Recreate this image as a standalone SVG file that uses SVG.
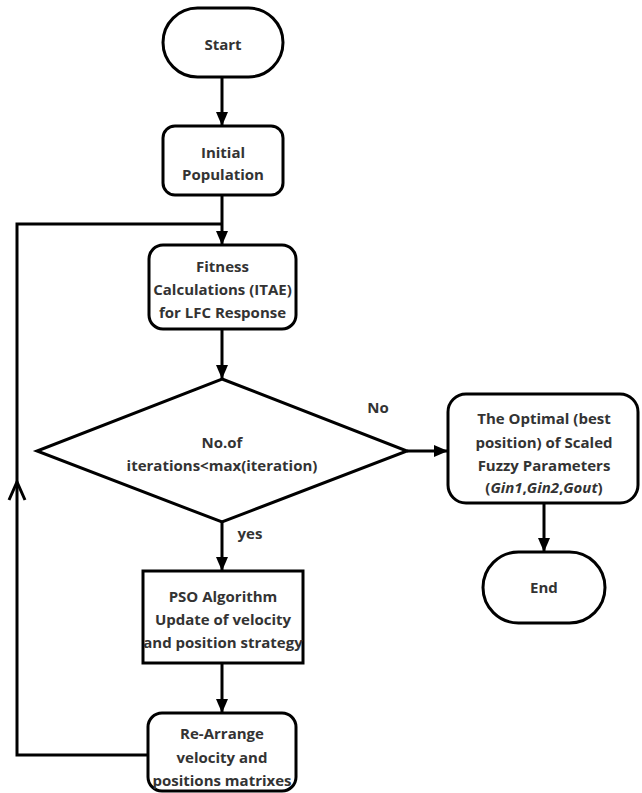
<svg xmlns="http://www.w3.org/2000/svg" width="642" height="793" viewBox="0 0 642 793">
  <style>
    .shape { fill: #ffffff; stroke: #000000; stroke-width: 3; }
    .edge { fill: none; stroke: #000000; stroke-width: 3; }
    .lbl { font-family: "Open Sans", "Noto Sans", "DejaVu Sans", sans-serif; font-weight: bold; font-size: 15px; fill: #333333; text-anchor: middle; }
  </style>
  <defs>
    <marker id="arrow" markerUnits="userSpaceOnUse" markerWidth="14" markerHeight="14" viewBox="0 0 14 14" refX="14" refY="7" orient="auto">
      <path d="M0,1 L14,7 L0,13 z" fill="#000000"/>
    </marker>
  </defs>
  <rect width="642" height="793" fill="#ffffff"/>

  <g id="connectors">
    <line class="edge" x1="222" y1="77" x2="222" y2="126" marker-end="url(#arrow)"/>
    <line class="edge" x1="222" y1="195" x2="222" y2="245" marker-end="url(#arrow)"/>
    <line class="edge" x1="222" y1="329" x2="222" y2="379" marker-end="url(#arrow)"/>
    <line class="edge" x1="222" y1="522" x2="222" y2="571" marker-end="url(#arrow)"/>
    <line class="edge" x1="222" y1="663" x2="222" y2="713" marker-end="url(#arrow)"/>
    <line class="edge" x1="407" y1="451" x2="448" y2="451" marker-end="url(#arrow)"/>
    <line class="edge" x1="544" y1="503" x2="544" y2="552" marker-end="url(#arrow)"/>
    <polyline class="edge" points="148,755 17,755 17,224 222,224"/>
    <polyline class="edge" points="9,500 17,482 25,500" stroke-linejoin="miter"/>
    <text class="lbl" x="378" y="413">No</text>
    <text class="lbl" x="250" y="539">yes</text>
  </g>

  <g id="start">
    <rect class="shape" x="163" y="8" width="120" height="69" rx="34.5"/>
    <text class="lbl" x="223" y="49.5">Start</text>
  </g>

  <g id="initial">
    <rect class="shape" x="163" y="126" width="120" height="69" rx="12"/>
    <text class="lbl" x="223" y="157.5">Initial</text>
    <text class="lbl" x="223" y="179.5">Population</text>
  </g>

  <g id="fitness">
    <rect class="shape" x="149" y="245" width="147" height="84" rx="14"/>
    <text class="lbl" x="222.5" y="271.5">Fitness</text>
    <text class="lbl" x="222.5" y="294.5">Calculations (ITAE)</text>
    <text class="lbl" x="222.5" y="317.5">for LFC Response</text>
  </g>

  <g id="decision">
    <polygon class="shape" points="222,379 407,451 222,522 37,451"/>
    <text class="lbl" x="222" y="447.5">No.of</text>
    <text class="lbl" x="222" y="470.5">iterations&lt;max(iteration)</text>
  </g>

  <g id="optimal">
    <rect class="shape" x="448" y="394" width="190" height="109" rx="18"/>
    <text class="lbl" x="544" y="423.5">The Optimal (best</text>
    <text class="lbl" x="544" y="447.5">position) of Scaled</text>
    <text class="lbl" x="544" y="470.5">Fuzzy Parameters</text>
    <text class="lbl" x="544" y="492.5">(<tspan font-style="italic">Gin1</tspan>,<tspan font-style="italic">Gin2</tspan>,<tspan font-style="italic">Gout</tspan>)</text>
  </g>

  <g id="end">
    <rect class="shape" x="483" y="552" width="122" height="71" rx="35.5"/>
    <text class="lbl" x="544" y="593">End</text>
  </g>

  <g id="pso">
    <rect class="shape" x="143" y="571" width="160" height="92"/>
    <text class="lbl" x="223" y="601.5">PSO Algorithm</text>
    <text class="lbl" x="223" y="624.5">Update of velocity</text>
    <text class="lbl" x="223" y="647.5">and position strategy</text>
  </g>

  <g id="rearrange">
    <rect class="shape" x="148" y="713" width="148" height="78" rx="14"/>
    <text class="lbl" x="222" y="738.5">Re-Arrange</text>
    <text class="lbl" x="222" y="762.5">velocity and</text>
    <text class="lbl" x="222" y="785.5">positions matrixes</text>
  </g>
</svg>
